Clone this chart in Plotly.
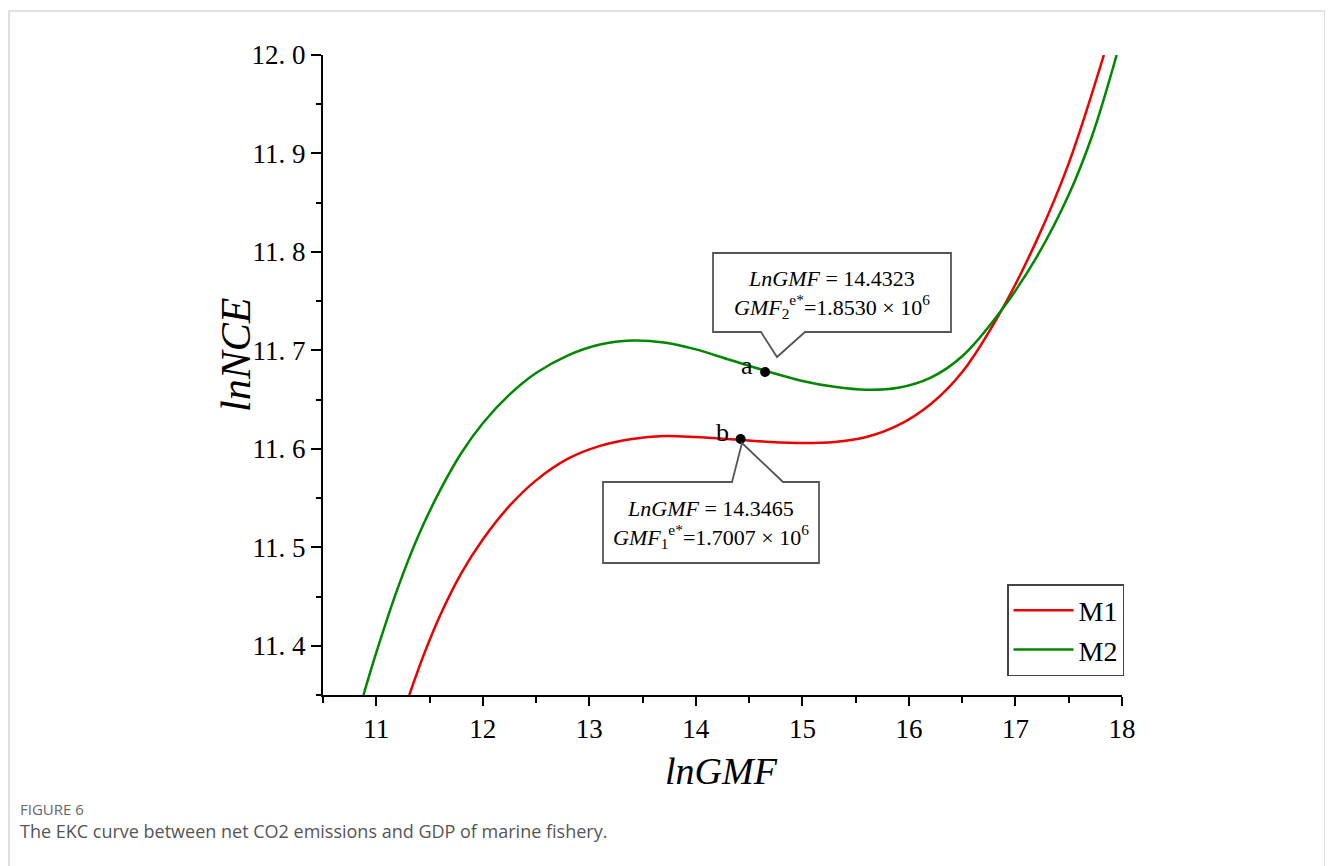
import plotly.graph_objects as go

# ---------------- data ----------------
m1_x = [11.31, 11.45, 11.6, 11.8, 12.0, 12.25, 12.5, 12.8, 13.1, 13.4, 13.7, 14.0, 14.42, 14.7, 15.0, 15.3, 15.6, 15.9, 16.2, 16.5, 16.87, 17.2, 17.5, 17.83]
m1_y = [11.35, 11.392, 11.431, 11.474, 11.508, 11.542, 11.568, 11.590, 11.603, 11.610, 11.613, 11.612, 11.609, 11.607, 11.606, 11.607, 11.612, 11.624, 11.645, 11.678, 11.741, 11.812, 11.89, 12.0]

m2_x = [10.88, 11.0, 11.2, 11.4, 11.6, 11.8, 12.0, 12.25, 12.5, 12.8, 13.1, 13.4, 13.7, 14.0, 14.3, 14.66, 15.0, 15.3, 15.6, 15.9, 16.2, 16.5, 16.87, 17.2, 17.5, 17.72, 17.95]
m2_y = [11.35, 11.393, 11.458, 11.513, 11.558, 11.596, 11.626, 11.655, 11.677, 11.695, 11.706, 11.710, 11.708, 11.701, 11.691, 11.679, 11.669, 11.663, 11.660, 11.662, 11.672, 11.694, 11.741, 11.795, 11.858, 11.918, 12.0]

pt_labels = ["a", "b"]
pt_x = [14.65, 14.42]
pt_y = [11.678, 11.610]

x_ticks = [11, 12, 13, 14, 15, 16, 17, 18]
x_ticktext = ["11", "12", "13", "14", "15", "16", "17", "18"]
y_ticks = [11.4, 11.5, 11.6, 11.7, 11.8, 11.9, 12.0]
y_ticktext = ["11. 4", "11. 5", "11. 6", "11. 7", "11. 8", "11. 9", "12. 0"]

callout_a = "<i>LnGMF</i> = 14.4323<br><i>GMF</i><sub>2</sub><sup>e*</sup>=1.8530 × 10<sup>6</sup>"
callout_b = "<i>LnGMF</i> = 14.3465<br><i>GMF</i><sub>1</sub><sup>e*</sup>=1.7007 × 10<sup>6</sup>"
caption_head = "FIGURE 6"
caption_text = "The EKC curve between net CO2 emissions and GDP of marine fishery."

# ---------------- layout helpers (reference pixel -> paper) ----------------
OFF = 8                      # default page margin of the html body
W, H = 1333 - OFF, 866 - OFF
PL, PR, PT, PB = 323, 1122, 55, 695   # plot area in reference pixels


def fx(px):
    return (px - PL) / (PR - PL)


def fy(py):
    return (PB - py) / (PB - PT)


SERIF = "Liberation Serif, Times New Roman, serif"
SANS = "Open Sans, sans-serif"

fig = go.Figure()
fig.add_trace(go.Scatter(x=m1_x, y=m1_y, mode="lines", name="M1",
                         line=dict(color="rgb(235,0,0)", width=2.5, shape="spline", smoothing=1.0)))
fig.add_trace(go.Scatter(x=m2_x, y=m2_y, mode="lines", name="M2",
                         line=dict(color="rgb(0,135,0)", width=2.5, shape="spline", smoothing=1.0)))
fig.add_trace(go.Scatter(x=pt_x, y=pt_y, mode="markers", showlegend=False,
                         marker=dict(color="black", size=10)))


def callout(l, r, t, b, pl, pr, tipx, tipy, below):
    if below:
        pts = [(l, t), (r, t), (r, b), (pr, b), (tipx, tipy), (pl, b), (l, b)]
    else:
        pts = [(l, t), (pl, t), (tipx, tipy), (pr, t), (r, t), (r, b), (l, b)]
    path = "M " + " L ".join(f"{fx(x):.5f},{fy(y):.5f}" for x, y in pts) + " Z"
    return dict(type="path", xref="paper", yref="paper", path=path,
                line=dict(color="#555555", width=1.8), fillcolor="white", layer="above")


shapes = [
    callout(713, 951, 253, 332, 761, 805, 777, 357, True),
    callout(603, 819, 482, 563, 732, 783, 742, 443, False),
    dict(type="rect", xref="paper", yref="paper", x0=fx(9), x1=fx(1325), y0=fy(880), y1=fy(11),
         line=dict(color="#c8c8c8", width=1.2), fillcolor="rgba(0,0,0,0)", layer="below"),
]

annotations = [
    dict(xref="paper", yref="paper", x=fx(832), y=fy(294), text=callout_a, showarrow=False,
         font=dict(family=SERIF, size=22, color="black"), xanchor="center", yanchor="middle"),
    dict(xref="paper", yref="paper", x=fx(711), y=fy(524), text=callout_b, showarrow=False,
         font=dict(family=SERIF, size=22, color="black"), xanchor="center", yanchor="middle"),
    dict(xref="paper", yref="paper", x=fx(236), y=fy(355), text="<i>lnNCE</i>", showarrow=False,
         textangle=-90, font=dict(family=SERIF, size=42, color="black"), xanchor="center", yanchor="middle"),
    dict(xref="paper", yref="paper", x=fx(721), y=fy(771), text="<i>lnGMF</i>", showarrow=False,
         font=dict(family=SERIF, size=38, color="black"), xanchor="center", yanchor="middle"),
    dict(xref="paper", yref="paper", x=fx(18), y=fy(809), text=caption_head, showarrow=False,
         font=dict(family=SANS, size=15, color="#666666"), xanchor="left", yanchor="middle"),
    dict(xref="paper", yref="paper", x=fx(18), y=fy(831), text=caption_text, showarrow=False,
         font=dict(family=SANS, size=18, color="#555555"), xanchor="left", yanchor="middle"),
]
for lab, px_, py_ in zip(pt_labels, pt_x, pt_y):
    annotations.append(dict(x=px_, y=py_, xref="x", yref="y", text=lab, showarrow=False,
                            xanchor="right", yanchor="middle", xshift=-10, yshift=7,
                            font=dict(family=SERIF, size=26, color="black")))

fig.update_layout(
    width=W, height=H,
    margin=dict(l=PL - OFF, r=(1333 - PR), t=PT - OFF, b=(866 - PB), autoexpand=False),
    paper_bgcolor="white", plot_bgcolor="white",
    shapes=shapes, annotations=annotations,
    legend=dict(x=fx(1124), xanchor="right", y=fy(676), yanchor="bottom",
                bgcolor="white", bordercolor="#444444", borderwidth=1.5,
                font=dict(family=SERIF, size=28, color="black"), itemwidth=60,
                entrywidth=75, entrywidthmode="pixels"),
    xaxis=dict(range=[10.5, 18], tickvals=x_ticks, ticktext=x_ticktext,
               showline=True, linecolor="black", linewidth=2, showgrid=False, zeroline=False,
               ticks="outside", ticklen=9, tickwidth=2, tickcolor="black",
               tickfont=dict(family=SERIF, size=27, color="black"),
               minor=dict(dtick=0.5, tick0=10.5, ticks="outside", ticklen=6, tickwidth=2, tickcolor="black")),
    yaxis=dict(range=[11.35, 12.0], tickvals=y_ticks, ticktext=y_ticktext,
               showline=True, linecolor="black", linewidth=2, showgrid=False, zeroline=False,
               ticks="outside", ticklen=10, tickwidth=2, tickcolor="black",
               tickfont=dict(family=SERIF, size=27, color="black"),
               minor=dict(dtick=0.05, tick0=11.35, ticks="outside", ticklen=5, tickwidth=2, tickcolor="black")),
)

fig.write_html("out.html")
